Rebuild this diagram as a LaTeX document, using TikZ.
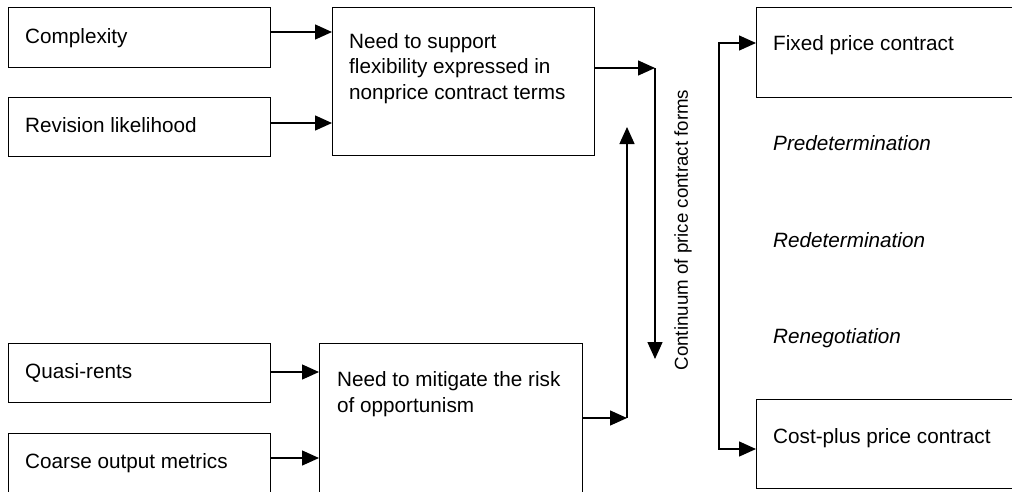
\documentclass[tikz,border=0pt]{standalone}
\usepackage{fontspec}
\setmainfont{Liberation Sans}
\usetikzlibrary{arrows.meta}
\begin{document}
\begin{tikzpicture}[x=1pt,y=-1pt,
  box/.style={draw, line width=1.4pt, inner sep=0pt, anchor=north west},
  lbl/.style={anchor=base west, inner sep=0pt, font=\fontsize{20.7}{25.5}\selectfont, align=left},
  ital/.style={lbl, font=\fontsize{20.7}{25.5}\selectfont\itshape},
  conn/.style={line width=1.4pt, line join=miter, -{Triangle[length=17pt,width=15pt]}}]
\clip (0,0) rectangle (1012,491);

% factor boxes on the left
\node[box, minimum width=262pt, minimum height=60pt] (cx)  at (8,7)   {};
\node[box, minimum width=262pt, minimum height=59pt] (rev) at (8,97)  {};
\node[box, minimum width=262pt, minimum height=59pt] (qr)  at (8,343) {};
\node[box, minimum width=262pt, minimum height=80pt] (com) at (8,433) {};
\node[lbl] (cxt)  at (25,43)  {Complexity};
\node[lbl] (revt) at (25,132) {Revision likelihood};
\node[lbl] (qrt)  at (25,378) {Quasi-rents};
\node[lbl] (comt) at (25,468) {Coarse output metrics};

% needs (base anchor sits on the last line)
\node[box, minimum width=262pt, minimum height=148pt] (sup) at (332,7)   {};
\node[box, minimum width=263pt, minimum height=170pt] (mit) at (319,343) {};
\node[lbl] (supt) at (349,99) {Need to support\\flexibility expressed in\\nonprice contract terms};
\node[lbl] (mitt) at (337,412) {Need to mitigate the risk\\of opportunism};

% contract forms on the right
\node[box, minimum width=280pt, minimum height=90pt] (fix)  at (756,7)   {};
\node[box, minimum width=280pt, minimum height=89pt] (cost) at (756,399) {};
\node[lbl] (fixt)  at (773,50)  {Fixed price contract};
\node[lbl] (costt) at (773,443) {Cost-plus price contract};
\node[ital] (pre) at (773,150) {Predetermination};
\node[ital] (red) at (773,247) {Redetermination};
\node[ital] (ren) at (773,343) {Renegotiation};

% continuum
\node[lbl, font=\fontsize{18.7}{22}\selectfont, anchor=center, rotate=90] (cont) at (683,230) {Continuum of price contract forms};
\coordinate (ctop) at (655,68);
\coordinate (cbot) at (655,359);
\coordinate (ubot) at (627,418);
\coordinate (utop) at (627,127);
\coordinate (btop) at (719,43);
\coordinate (bbot) at (719,449);

% connectors
\draw[conn] (cx.east |- 0,32)   -- (sup.west |- 0,32);
\draw[conn] (rev.east |- 0,123) -- (sup.west |- 0,123);
\draw[conn] (qr.east |- 0,372)  -- (mit.west |- 0,372);
\draw[conn] (com.east |- 0,458) -- (mit.west |- 0,458);
\draw[conn] (sup.east |- ctop) -- (ctop);
\draw[conn] (ctop) -- (cbot);
\draw[conn] (mit.east |- ubot) -- (ubot);
\draw[conn] (ubot) -- (utop);
\draw[conn] (bbot) -- (btop) -- (fix.west |- btop);
\draw[conn] (btop) -- (bbot) -- (cost.west |- bbot);
\end{tikzpicture}
\end{document}
